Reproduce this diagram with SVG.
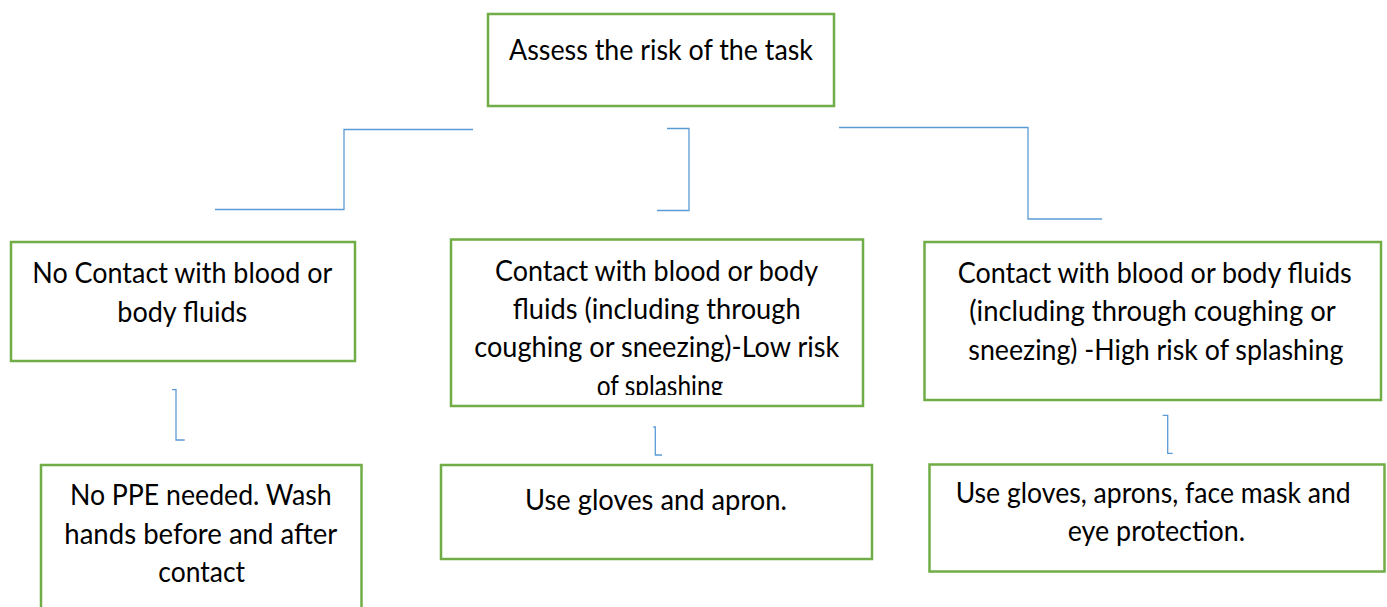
<svg xmlns="http://www.w3.org/2000/svg" width="1387" height="607" viewBox="0 0 1387 607">
  <style>
    .box { fill: #ffffff; stroke: #70AD47; stroke-width: 2.5; }
    .link { fill: none; stroke: #5B9BD5; stroke-width: 1.3; }
    .label { font-family: Lato, Carlito, "Liberation Sans", sans-serif; font-size: 29.3px; fill: #000000; text-anchor: middle; }
  </style>
  <defs>
    <clipPath id="clip-low">
      <rect x="451" y="239" width="412" height="156"/>
    </clipPath>
  </defs>
  <rect width="1387" height="607" fill="#ffffff"/>

  <!-- elbow connectors -->
  <g id="connectors">
    <polyline class="link" points="215,209.5 344,209.5 344,129.5 473,129.5"/>
    <polyline class="link" points="667,128.5 689,128.5 689,210.5 657,210.5"/>
    <polyline class="link" points="839,127.5 1028,127.5 1028,219 1102,219"/>
    <polyline class="link" points="172,389.7 176,389.7 176,440 184.7,440"/>
    <polyline class="link" points="653.3,427 655.3,427 655.3,455 662,455"/>
    <polyline class="link" points="1162.7,415.3 1167.7,415.3 1167.7,453.3 1172.7,453.3"/>
  </g>

  <g id="assess">
    <rect class="box" x="488" y="14" width="346" height="92"/>
    <text class="label" x="661" y="60" textLength="304" lengthAdjust="spacingAndGlyphs">Assess the risk of the task</text>
  </g>

  <g id="no-contact">
    <rect class="box" x="11" y="242" width="344" height="119"/>
    <text class="label" x="182.3" y="282.5" textLength="300" lengthAdjust="spacingAndGlyphs">No Contact with blood or</text>
    <text class="label" x="182.3" y="321.5" textLength="130" lengthAdjust="spacingAndGlyphs">body fluids</text>
  </g>

  <g id="low-risk">
    <rect class="box" x="451" y="239.5" width="412" height="166.5"/>
    <g clip-path="url(#clip-low)">
      <text class="label" x="656.5" y="280.5" textLength="323" lengthAdjust="spacingAndGlyphs">Contact with blood or body</text>
      <text class="label" x="656.7" y="318.8" textLength="288" lengthAdjust="spacingAndGlyphs">fluids (including through</text>
      <text class="label" x="656.8" y="357.3" textLength="365" lengthAdjust="spacingAndGlyphs">coughing or sneezing)-Low risk</text>
      <text class="label" x="660" y="396" textLength="126.6" lengthAdjust="spacingAndGlyphs">of splashing</text>
    </g>
  </g>

  <g id="high-risk">
    <rect class="box" x="924.5" y="242" width="456.5" height="158"/>
    <text class="label" x="1154.7" y="282.5" textLength="394" lengthAdjust="spacingAndGlyphs">Contact with blood or body fluids</text>
    <text class="label" x="1152.5" y="321.3" textLength="366.4" lengthAdjust="spacingAndGlyphs">(including through coughing or</text>
    <text class="label" x="1155.8" y="360" textLength="375" lengthAdjust="spacingAndGlyphs">sneezing) -High risk of splashing</text>
  </g>

  <g id="no-ppe">
    <rect class="box" x="41" y="465" width="320.5" height="160"/>
    <text class="label" x="200.8" y="505" textLength="261.7" lengthAdjust="spacingAndGlyphs">No PPE needed. Wash</text>
    <text class="label" x="200.8" y="543.5" textLength="273" lengthAdjust="spacingAndGlyphs">hands before and after</text>
    <text class="label" x="201.7" y="582" textLength="86.7" lengthAdjust="spacingAndGlyphs">contact</text>
  </g>

  <g id="gloves-apron">
    <rect class="box" x="441" y="465" width="431" height="94"/>
    <text class="label" x="656" y="510" textLength="262" lengthAdjust="spacingAndGlyphs">Use gloves and apron.</text>
  </g>

  <g id="full-ppe">
    <rect class="box" x="929.5" y="464.5" width="455" height="107"/>
    <text class="label" x="1153.2" y="503" textLength="395" lengthAdjust="spacingAndGlyphs">Use gloves, aprons, face mask and</text>
    <text class="label" x="1156.4" y="541" textLength="177.3" lengthAdjust="spacingAndGlyphs">eye protection.</text>
  </g>
</svg>
